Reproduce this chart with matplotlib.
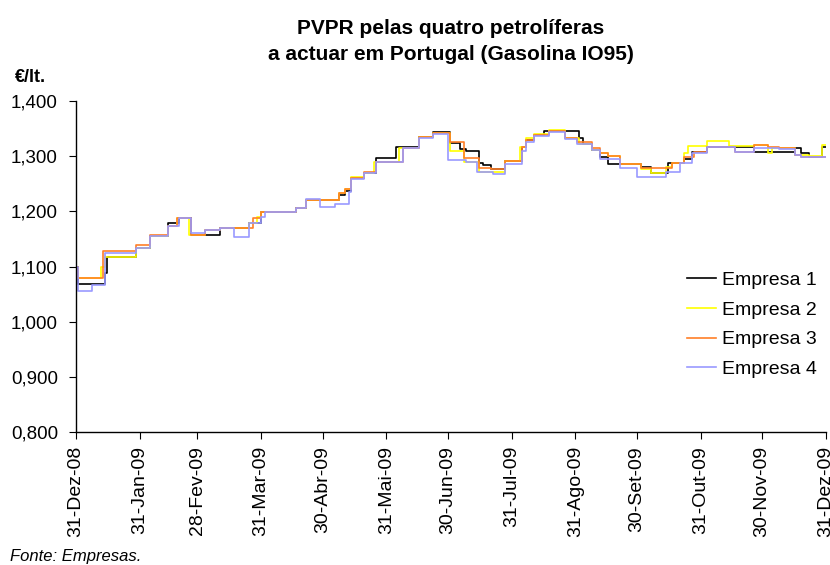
import numpy as np
import pandas as pd
import matplotlib
matplotlib.use('Agg')
import matplotlib.pyplot as plt
import matplotlib.ticker as mticker

plt.rcParams['font.family'] = ['Liberation Sans', 'DejaVu Sans']

start = pd.Timestamp('2008-12-31')

# price breakpoints: (days since 31-Dez-08, EUR/lt)
e1_days = [0, 1, 14, 15, 29, 36, 45, 50, 56, 70, 84, 90, 107, 112, 128, 131, 134, 140, 146, 156,
           167, 174, 182, 187, 190, 196, 198, 202, 209, 217, 219, 223, 228, 245, 247, 251, 255, 259,
           265, 275, 280, 288, 291, 296, 300, 307, 321, 330, 350, 353, 357, 363, 365]
e1_vals = [1.100, 1.068, 1.088, 1.118, 1.134, 1.156, 1.179, 1.188, 1.158, 1.169, 1.178, 1.198, 1.206,
           1.220, 1.230, 1.237, 1.260, 1.270, 1.297, 1.317, 1.335, 1.344, 1.324, 1.313, 1.309, 1.287,
           1.284, 1.277, 1.291, 1.317, 1.329, 1.338, 1.345, 1.333, 1.322, 1.311, 1.298, 1.286, 1.285,
           1.280, 1.270, 1.287, 1.288, 1.295, 1.308, 1.317, 1.317, 1.308, 1.315, 1.306, 1.298, 1.316,
           1.316]

e2_days = [0, 1, 12, 14, 29, 36, 45, 49, 55, 63, 70, 84, 88, 90, 107, 112, 128, 131, 134, 140, 145,
           157, 167, 174, 182, 189, 196, 209, 216, 219, 223, 230, 238, 245, 251, 255, 259, 265, 275,
           280, 287, 290, 296, 298, 307, 318, 330, 337, 339, 350, 357, 363, 365]
e2_vals = [1.100, 1.080, 1.100, 1.118, 1.134, 1.156, 1.174, 1.188, 1.158, 1.166, 1.169, 1.178, 1.190,
           1.198, 1.206, 1.220, 1.233, 1.240, 1.262, 1.270, 1.290, 1.315, 1.335, 1.342, 1.309, 1.290,
           1.272, 1.291, 1.317, 1.333, 1.340, 1.347, 1.333, 1.322, 1.311, 1.305, 1.300, 1.285, 1.277,
           1.270, 1.280, 1.288, 1.305, 1.318, 1.328, 1.318, 1.320, 1.305, 1.315, 1.302, 1.300, 1.320,
           1.320]

e3_days = [0, 1, 13, 29, 36, 45, 49, 56, 63, 70, 86, 90, 107, 112, 128, 131, 134, 140, 146, 159, 167,
           174, 182, 189, 196, 202, 209, 217, 219, 223, 230, 238, 244, 251, 255, 259, 265, 275, 290,
           296, 301, 307, 321, 330, 337, 342, 350, 353, 365]
e3_vals = [1.100, 1.080, 1.129, 1.139, 1.157, 1.174, 1.188, 1.158, 1.166, 1.169, 1.188, 1.198, 1.206,
           1.220, 1.233, 1.240, 1.260, 1.272, 1.290, 1.315, 1.335, 1.342, 1.326, 1.296, 1.278, 1.276,
           1.291, 1.317, 1.329, 1.338, 1.346, 1.333, 1.325, 1.314, 1.305, 1.300, 1.285, 1.278, 1.287,
           1.298, 1.308, 1.317, 1.308, 1.320, 1.316, 1.315, 1.302, 1.298, 1.298]

e4_days = [0, 1, 8, 14, 29, 36, 45, 50, 56, 63, 70, 77, 84, 90, 92, 107, 112, 119, 126, 133, 134,
           140, 146, 159, 167, 174, 181, 190, 195, 203, 209, 217, 219, 223, 230, 238, 244, 251, 255,
           265, 273, 287, 294, 300, 307, 321, 330, 342, 350, 353, 365]
e4_vals = [1.100, 1.055, 1.067, 1.124, 1.134, 1.156, 1.174, 1.188, 1.160, 1.166, 1.169, 1.154, 1.178,
           1.190, 1.198, 1.206, 1.222, 1.207, 1.213, 1.235, 1.258, 1.270, 1.290, 1.314, 1.333, 1.340,
           1.293, 1.290, 1.272, 1.268, 1.285, 1.310, 1.325, 1.336, 1.344, 1.331, 1.322, 1.311, 1.295,
           1.278, 1.262, 1.272, 1.287, 1.305, 1.317, 1.308, 1.315, 1.313, 1.302, 1.298, 1.298]

series_names = ['Empresa 1', 'Empresa 2', 'Empresa 3', 'Empresa 4']
series_colors = ['#000000', '#FFFF00', '#FF7F27', '#9999FF']

tick_dates = ['2008-12-31', '2009-01-31', '2009-02-28', '2009-03-31', '2009-04-30', '2009-05-31',
              '2009-06-30', '2009-07-31', '2009-08-31', '2009-09-30', '2009-10-31', '2009-11-30',
              '2009-12-31']
tick_labels = ['31-Dez-08', '31-Jan-09', '28-Fev-09', '31-Mar-09', '30-Abr-09', '31-Mai-09',
               '30-Jun-09', '31-Jul-09', '31-Ago-09', '30-Set-09', '31-Out-09', '30-Nov-09',
               '31-Dez-09']

fig = plt.figure(figsize=(8.3, 5.65), dpi=100)
ax = fig.add_axes([0.0916, 0.2354, 0.9034, 0.5858])

all_days = [e1_days, e2_days, e3_days, e4_days]
all_vals = [e1_vals, e2_vals, e3_vals, e4_vals]
for d, v, name, c in zip(all_days, all_vals, series_names, series_colors):
    dates = start + pd.to_timedelta(np.array(d), unit='D')
    ax.plot(dates, v, drawstyle='steps-post', color=c, lw=1.2, label=name)

ax.set_xlim(pd.Timestamp(tick_dates[0]), pd.Timestamp(tick_dates[-1]))
ax.set_ylim(0.8, 1.4)
ax.set_xticks(pd.to_datetime(tick_dates))
ax.set_xticklabels(tick_labels, rotation=90, fontsize=14)
ax.set_yticks(np.arange(0.8, 1.401, 0.1))
ax.yaxis.set_major_formatter(mticker.FuncFormatter(lambda y, p: '{:.3f}'.format(y).replace('.', ',')))
ax.tick_params(axis='y', labelsize=13.5, length=5, direction='out', pad=8)
ax.tick_params(axis='x', length=5, direction='out', pad=5)
for s in ['top', 'right']:
    ax.spines[s].set_visible(False)
for s in ['left', 'bottom']:
    ax.spines[s].set_linewidth(1.0)

leg = ax.legend(loc='upper left', bbox_to_anchor=(0.815, 0.485), frameon=False, fontsize=14,
                handlelength=1.5, handletextpad=0.3, labelspacing=0.62, borderaxespad=0,
                borderpad=0)

fig.text(0.543, 1 - 28 / 565, 'PVPR pelas quatro petrolíferas',
         ha='center', va='center', fontsize=15, fontweight='bold')
fig.text(0.543, 1 - 55 / 565, 'a actuar em Portugal (Gasolina IO95)',
         ha='center', va='center', fontsize=15, fontweight='bold')
fig.text(0.018, 1 - 78 / 565, '€/lt.', fontsize=13, fontweight='bold', va='center')
fig.text(0.012, 1 - 557 / 565, 'Fonte: Empresas.', fontsize=12, style='italic', va='center')

fig.savefig('out.png', dpi=100)
